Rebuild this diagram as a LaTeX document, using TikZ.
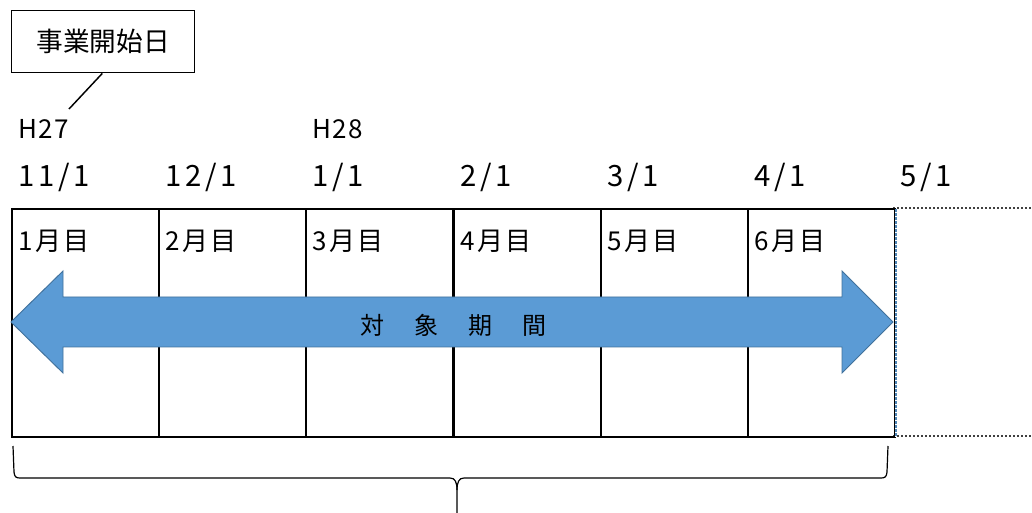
\documentclass[tikz,border=0pt]{standalone}
\usepackage{fontspec}
\setmainfont{Noto Sans CJK JP}
\newfontfamily\datefont[LetterSpace=13]{Noto Sans CJK JP}
\newfontfamily\monthfont[LetterSpace=10]{Noto Sans CJK JP}
\newfontfamily\erafont[LetterSpace=6]{Noto Sans CJK JP}
\definecolor{arrowfill}{HTML}{5B9BD5}
\definecolor{arrowline}{HTML}{41719C}
\begin{document}
\begin{tikzpicture}[x=0.75pt,y=-0.75pt,
  cell/.style={draw=black,line width=1.5pt,minimum width=147*0.75pt,minimum height=228*0.75pt,anchor=north west,inner sep=0pt},
  datelbl/.style={anchor=base west,inner sep=0pt,font=\datefont\fontsize{22}{26}\selectfont},
  eralbl/.style={anchor=base west,inner sep=0pt,font=\erafont\fontsize{19.5}{23}\selectfont},
  monthlbl/.style={anchor=base west,inner sep=0pt,font=\monthfont\fontsize{19.5}{23}\selectfont},
  calloutbox/.style={draw=black,line width=1.1pt,minimum width=183*0.75pt,minimum height=62*0.75pt,anchor=north west,inner sep=0pt,font=\fontsize{20}{24}\selectfont},
  thinline/.style={line width=0.9pt,black}]
\useasboundingbox (0,0) rectangle (1032,513);
% dashed extra month box
\node[anchor=north west,minimum width=150*0.75pt,minimum height=228*0.75pt,inner sep=0pt] (extra) at (893,208) {};
\draw[gray!50!black,line width=1.5pt,dash pattern=on 1.5pt off 1.5pt] (893,208) -- (1040,208);
\draw[gray!50!black,line width=1.5pt,dash pattern=on 1.5pt off 1.5pt] (893,436) -- (1040,436);
% cells
\foreach \i/\x in {1/11,2/158,3/305,4/453,5/600,6/747}{
  \node[cell] (c\i) at (\x,208) {};
}
\draw[white,line width=1.6pt] ([yshift=-1pt]c6.north east) -- ([yshift=1pt]c6.south east);
\draw[arrowfill!85!black,line width=1.2pt,dash pattern=on 2pt off 1pt] ([yshift=-1pt]c6.north east) -- ([yshift=1pt]c6.south east);
% month labels
\foreach \i/\x in {1/18,2/165,3/312,4/460,5/607,6/754}{
  \node[monthlbl] (m\i) at (\x,251) {\i 月目};
}
% date labels
\node[datelbl] (d1) at (18,187) {11/1};
\node[datelbl] (d2) at (165,187) {12/1};
\node[datelbl] (d3) at (312,187) {1/1};
\node[datelbl] (d4) at (460,187) {2/1};
\node[datelbl] (d5) at (607,187) {3/1};
\node[datelbl] (d6) at (754,187) {4/1};
\node[datelbl] (d7) at (900,187) {5/1};
% era labels
\node[eralbl] (h27) at (18,139) {H27};
\node[eralbl] (h28) at (312,139) {H28};
% callout
\node[calloutbox] (call) at (11,10) {事業開始日};
\coordinate (callend) at (69,109);
\draw[line width=1.1pt] ([xshift=-0.75pt]call.south) -- (callend);
% double arrow
\draw[fill=arrowfill,draw=arrowline,line width=0.7pt]
  (11,322) -- (63,271) -- (63,297) -- (842,297) -- (842,271) -- (893,322)
  -- (842,373) -- (842,347) -- (63,347) -- (63,373) -- cycle;
\node[font=\fontsize{18}{22}\selectfont,inner sep=0pt] (period) at (453,325) {対\hspace{22.5pt}象\hspace{22.5pt}期\hspace{22.5pt}間};
% brace
\coordinate (bl) at (13,446);
\coordinate (br) at (888,446);
\coordinate (btip) at (457,513);
\draw[thinline] (bl) -- (14,472) .. controls (14.5,477) and (16,478) .. (20,478)
  -- (450,478) .. controls (455,478) and (457,482) .. (457,490) -- (btip);
\draw[thinline] (br) -- (887,472) .. controls (886.5,477) and (885,478) .. (881,478)
  -- (464,478) .. controls (459,478) and (457,482) .. (457,490);
\end{tikzpicture}
\end{document}
